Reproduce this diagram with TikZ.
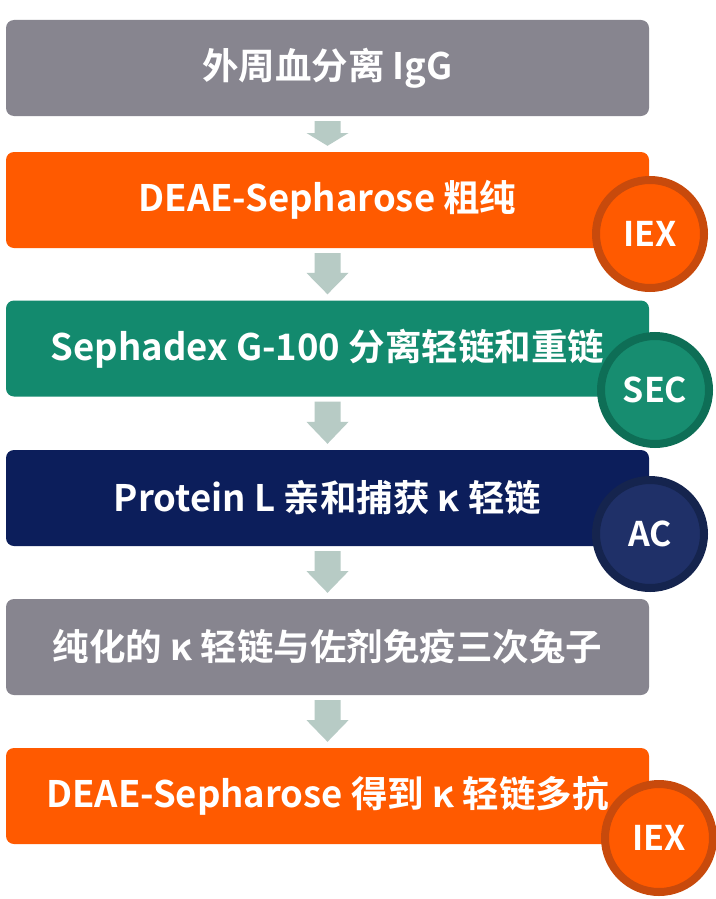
\documentclass[tikz,border=0pt]{standalone}
\usepackage{fontspec}
\setmainfont{Noto Sans CJK SC}[BoldFont={Noto Sans CJK SC Bold}]
\usetikzlibrary{calc}
\definecolor{cgrey}{HTML}{87858F}
\definecolor{corange}{HTML}{FF5A00}
\definecolor{corring}{HTML}{C84A0C}
\definecolor{cgreen}{HTML}{138A6E}
\definecolor{cgrring}{HTML}{0E6E56}
\definecolor{cgrfill}{HTML}{178D70}
\definecolor{cnavy}{HTML}{0C1E5B}
\definecolor{cnvring}{HTML}{15244E}
\definecolor{cnvfill}{HTML}{1F3068}
\definecolor{carrow}{HTML}{B7CBC5}
\begin{document}
\begin{tikzpicture}[x=1pt,y=-1pt,
  stepbox/.style={rectangle, rounded corners=8pt, minimum width=643pt, minimum height=96pt,
    inner sep=0pt, text=white, font=\fontsize{36.5}{40}\selectfont\bfseries},
  badge/.style={circle, minimum size=108pt, inner sep=0pt, line width=8pt, text=white,
    font=\fontsize{34}{38}\selectfont\bfseries},
  flowarrow/.style={fill=carrow, draw=none}]
\useasboundingbox (0,0) rectangle (715,899);
\fill[white] (0,0) rectangle (715,899);

\node[stepbox, fill=cgrey]   (b1) at (327.5,68)  {外周血分离 IgG};
\node[stepbox, fill=corange] (b2) at (327.5,200) {DEAE-Sepharose 粗纯};
\node[stepbox, fill=cgreen]  (b3) at (327.5,348.5) {Sephadex G-100 分离轻链和重链};
\node[stepbox, fill=cnavy]   (b4) at (327.5,498) {Protein L 亲和捕获 κ 轻链};
\node[stepbox, fill=cgrey]   (b5) at (327.5,647) {纯化的 κ 轻链与佐剂免疫三次兔子};
\node[stepbox, fill=corange] (b6) at (327.5,796) {DEAE-Sepharose 得到 κ 轻链多抗};

% arrows between boxes
\foreach \a/\b in {b1/b2,b2/b3,b3/b4,b4/b5,b5/b6}{
  \path ($(\a.south)+(0,5)$) coordinate (s) ($(\b.north)+(0,-6)$) coordinate (e);
  \fill[flowarrow] let \p1=(s), \p2=(e), \n1={\y2-\y1} in
    (\x1-13pt,\y1) -- (\x1+13pt,\y1) -- (\x1+13pt,\y1+0.48*\n1) -- (\x1+21pt,\y1+0.48*\n1)
    -- (\x1,\y2) -- (\x1-21pt,\y1+0.48*\n1) -- (\x1-13pt,\y1+0.48*\n1) -- cycle;
}

\node[badge, fill=corange, draw=corring] (c1) at (650,234) {IEX};
\node[badge, fill=cgrfill, draw=cgrring] (c2) at (655,390) {SEC};
\node[badge, fill=cnvfill, draw=cnvring] (c3) at (650,534) {AC};
\node[badge, fill=corange, draw=corring] (c4) at (659,838) {IEX};
\end{tikzpicture}
\end{document}
